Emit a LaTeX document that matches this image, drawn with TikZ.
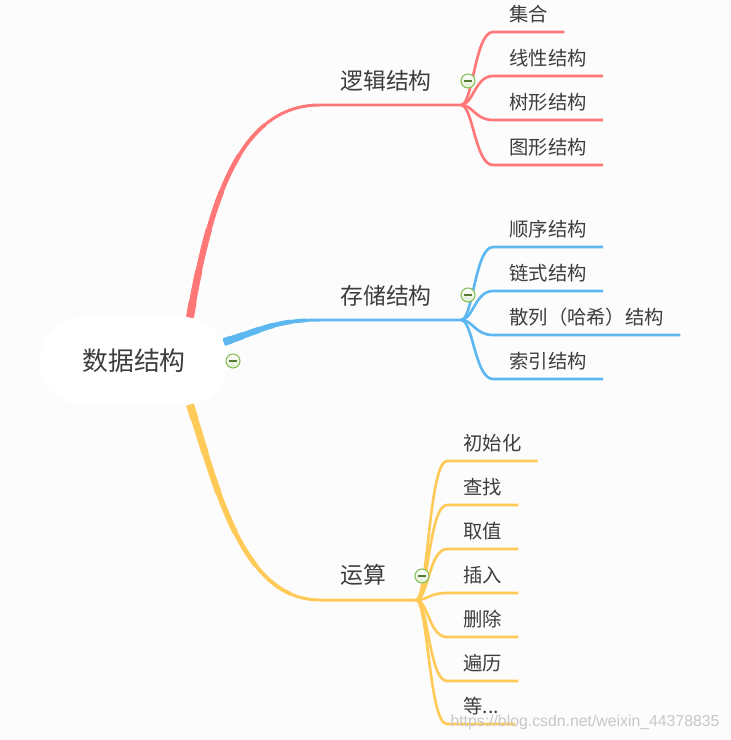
\documentclass[tikz,border=0pt]{standalone}
\usepackage{fontspec}
\newfontfamily\cjk{Noto Sans CJK SC}
\newfontfamily\wmfont{Liberation Sans}
\usetikzlibrary{positioning, shapes.misc}
\definecolor{logicred}{HTML}{FF7777}
\definecolor{storeblue}{HTML}{5DB7F0}
\definecolor{opyellow}{HTML}{FFCA57}
\definecolor{txtgray}{HTML}{3D3D3D}
\definecolor{canvas}{HTML}{FCFCFC}
\definecolor{togglegreen}{HTML}{82BD4E}

\begin{document}
\begin{tikzpicture}[
    x=0.02cm,
    y=-0.02cm,
    line cap=butt,
    text=txtgray,
    twig/.style={to path={.. controls +(12,0) and +(-18,0) .. (\tikztotarget) \tikztonodes}},
    taper/.style n args={7}{
        draw=#1,
        line width=1.7pt,
        preaction={draw=#1, line width=2.17pt, dash pattern=on #2 off 40cm},
        preaction={draw=#1, line width=2.64pt, dash pattern=on #3 off 40cm},
        preaction={draw=#1, line width=3.11pt, dash pattern=on #4 off 40cm},
        preaction={draw=#1, line width=3.58pt, dash pattern=on #5 off 40cm},
        preaction={draw=#1, line width=4.05pt, dash pattern=on #6 off 40cm},
        preaction={draw=#1, line width=4.52pt, dash pattern=on #7 off 40cm}
    }
]

\tikzstyle{root}=[
    rounded rectangle,
    fill=white,
    minimum width=4.02cm,
    minimum height=1.74cm,
    font=\cjk\fontsize{14.7}{17}\selectfont
]
\tikzstyle{topic}=[
    inner sep=0pt,
    font=\cjk\fontsize{13}{15}\selectfont
]
\tikzstyle{subtopic}=[
    anchor=south west,
    inner xsep=0.32cm,
    inner ysep=0.21cm,
    text depth=0pt,
    font=\cjk\fontsize{11}{13}\selectfont
]
\tikzstyle{leafline}=[line width=1.5pt]
\tikzstyle{toggle}=[
    circle,
    draw=togglegreen,
    line width=0.6pt,
    top color=white,
    bottom color=togglegreen!25,
    minimum size=0.28cm,
    inner sep=0pt,
    path picture={\draw[togglegreen!65!black, line width=0.7pt] (path picture bounding box.center) ++(-4,0) -- ++(8,0);}
]

\fill[canvas] (0,0) rectangle (730,740);
\useasboundingbox (0,0) rectangle (730,740);

\node[root] (DS) at (134,361) {数据结构};

\coordinate (H1) at (461,105);
\coordinate (H2) at (461,320);
\coordinate (H3) at (416,600);

% main branches
\draw[taper={logicred}{4.2cm}{3.4cm}{2.6cm}{1.8cm}{0.95cm}{0.3cm}]
    ([xshift=1.12cm]DS.north) .. controls (210,200) and (240,105) .. (320,105) -- (H1);
\draw[taper={storeblue}{1.7cm}{1.4cm}{1.05cm}{0.75cm}{0.4cm}{0.15cm}]
    ([xshift=-0.1cm, yshift=0.38cm]DS.east) .. controls (262,330) and (275,320) .. (320,320) -- (H2);
\draw[taper={opyellow}{4.4cm}{3.5cm}{2.7cm}{1.85cm}{1cm}{0.3cm}]
    ([xshift=1.12cm]DS.south) .. controls (215,480) and (240,600) .. (320,600) -- (H3);

\node[topic] (L1) at (386,81) {逻辑结构};
\node[topic] (L2) at (386,296) {存储结构};
\node[topic] (L3) at (363,575) {运算};

% logic structure
\node[subtopic] (a1) at (493,32) {集合};
\node[subtopic] (a2) at (493,76) {线性结构};
\node[subtopic] (a3) at (493,120) {树形结构};
\node[subtopic] (a4) at (493,165) {图形结构};
\draw[logicred, leafline] (H1) to[twig] (a1.south west) -- (a1.south east);
\draw[logicred, leafline] (H1) to[twig] (a2.south west) -- (a2.south east);
\draw[logicred, leafline] (H1) to[twig] (a3.south west) -- (a3.south east);
\draw[logicred, leafline] (H1) to[twig] (a4.south west) -- (a4.south east);

% storage structure
\node[subtopic] (b1) at (493,247) {顺序结构};
\node[subtopic] (b2) at (493,291) {链式结构};
\node[subtopic] (b3) at (493,335) {散列（哈希）结构};
\node[subtopic] (b4) at (493,379) {索引结构};
\draw[storeblue, leafline] (H2) to[twig] (b1.south west) -- (b1.south east);
\draw[storeblue, leafline] (H2) to[twig] (b2.south west) -- (b2.south east);
\draw[storeblue, leafline] (H2) to[twig] (b3.south west) -- (b3.south east);
\draw[storeblue, leafline] (H2) to[twig] (b4.south west) -- (b4.south east);

% operations
\node[subtopic] (c1) at (447,461) {初始化};
\node[subtopic] (c2) at (447,505) {查找};
\node[subtopic] (c3) at (447,549) {取值};
\node[subtopic] (c4) at (447,593) {插入};
\node[subtopic] (c5) at (447,637) {删除};
\node[subtopic] (c6) at (447,681) {遍历};
\node[subtopic] (c7) at (447,724) {等...};
\draw[opyellow, leafline] (H3) to[twig] (c1.south west) -- (c1.south east);
\draw[opyellow, leafline] (H3) to[twig] (c2.south west) -- (c2.south east);
\draw[opyellow, leafline] (H3) to[twig] (c3.south west) -- (c3.south east);
\draw[opyellow, leafline] (H3) to[twig] (c4.south west) -- (c4.south east);
\draw[opyellow, leafline] (H3) to[twig] (c5.south west) -- (c5.south east);
\draw[opyellow, leafline] (H3) to[twig] (c6.south west) -- (c6.south east);
\draw[opyellow, leafline] (H3) to[twig] (c7.south west) -- (c7.south east);

\node[toggle] (T0) at (233,361) {};
\node[toggle] (T1) at (468,81) {};
\node[toggle] (T2) at (468,295) {};
\node[toggle] (T3) at (422,576) {};

\node[font=\wmfont\fontsize{9}{11}\selectfont, text=black!22] (wm) at (585,722) {https://blog.csdn.net/weixin\_44378835};

\end{tikzpicture}
\end{document}
